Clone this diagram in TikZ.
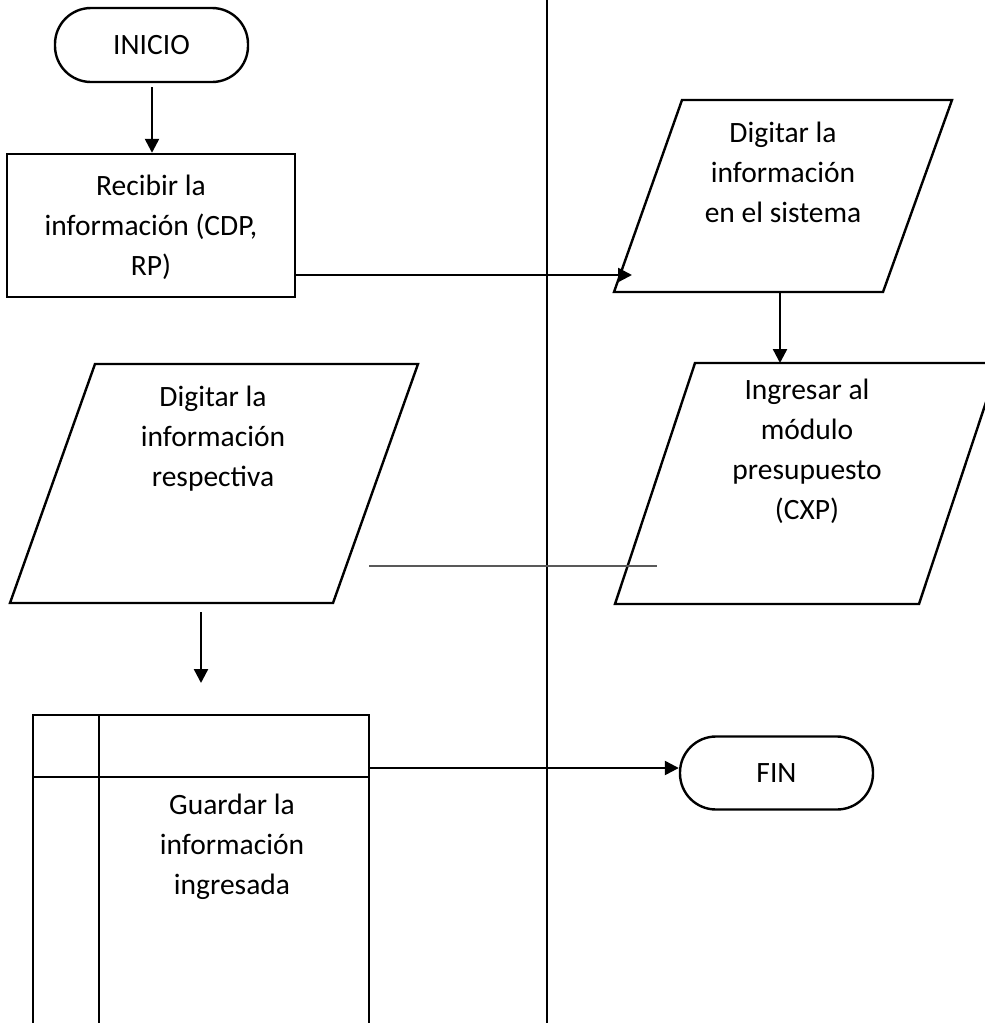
\documentclass[tikz,border=0pt]{standalone}
\usepackage{fontspec}
\setmainfont{Carlito}
\usetikzlibrary{arrows.meta}
\newcommand{\lblfont}{\fontsize{29.5}{40}\selectfont}
\tikzset{
  shp/.style={draw=black, line width=2.4pt, line join=miter},
  arr/.style={line width=2.4pt, -{Triangle[length=14pt,width=14pt]}},
  lbl/.style={align=center, inner sep=0pt, font=\lblfont, text=black},
  term/.style={draw=black, line width=2.4pt, rounded corners=36pt, inner sep=0pt, font=\lblfont},
}
\begin{document}
\begin{tikzpicture}[x=1pt, y=-1pt]
\useasboundingbox (0,0) rectangle (985,1023);
\clip (0,0) rectangle (985,1023);
\fill[white] (0,0) rectangle (985,1023);

% lane divider
\draw[line width=1.8pt] (547,-5) -- (547,1030);

% terminals
\node[term, minimum width=193pt, minimum height=74pt] (inicio) at (151.5,45) {INICIO};
\node[term, minimum width=193pt, minimum height=73pt] (fin) at (776.5,773) {FIN};

% process box
\node[shp, minimum width=288pt, minimum height=143pt, inner sep=0pt] (recv) at (151,225.5) {};
\node[lbl] (recvtxt) at (151,227) {Recibir la\\información (CDP,\\RP)};

% upper right parallelogram
\draw[shp] (682,100) -- (952,100) -- (883,292) -- (614,292) -- cycle;
\node[lbl] (p1) at (783,172) {Digitar la\\información\\en el sistema};

% lower right parallelogram
\draw[shp] (695,363) -- (999,363) -- (919,604) -- (615,604) -- cycle;
\node[lbl] (p2) at (807,451) {Ingresar al\\módulo\\presupuesto\\(CXP)};

% left parallelogram
\draw[shp] (95,364) -- (418,364) -- (333,603) -- (10,603) -- cycle;
\node[lbl] (p3) at (213,439) {Digitar la\\información\\respectiva};

% table / storage shape
\draw[shp] (33,1035) -- (33,715) -- (369,715) -- (369,1035);
\draw[shp] (99,715) -- (99,1035);
\draw[shp] (33,777) -- (369,777);
\node[lbl] (p4) at (232,847) {Guardar la\\información\\ingresada};

% gray line
\coordinate (g1) at (369,566);
\coordinate (g2) at (657,566);
\draw[line width=1.4pt, draw=black!65] (g1) -- (g2);

% connectors
\coordinate (a1) at (152,87);
\coordinate (a2) at (632,275);
\coordinate (p1b) at (780,292);
\coordinate (p2t) at (780,363);
\coordinate (p3b) at (201,612);
\coordinate (p4t) at (201,683);
\coordinate (tabr) at (369,768);

\draw[arr] (a1) -- (a1 |- recv.north);
\draw[arr] (recv.east |- a2) -- (a2);
\draw[arr] (p1b) -- (p2t);
\draw[arr] (p3b) -- (p4t);
\draw[arr] (tabr) -- (tabr -| fin.west);
\end{tikzpicture}
\end{document}
